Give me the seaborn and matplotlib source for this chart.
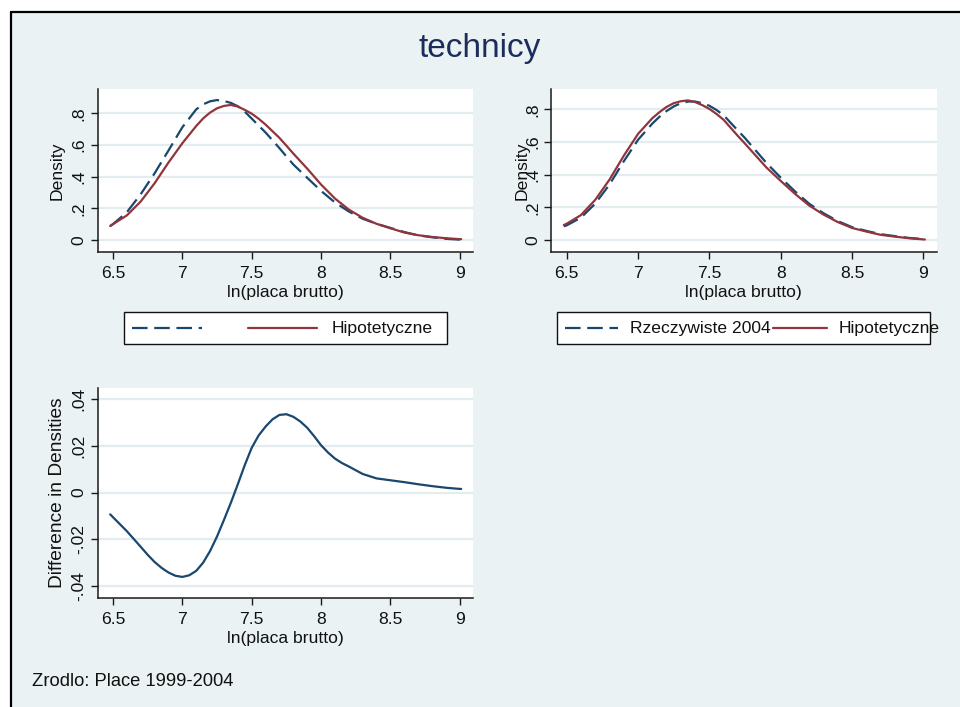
import matplotlib
matplotlib.use("Agg")
import matplotlib.pyplot as plt
from matplotlib.patches import Rectangle
from matplotlib.lines import Line2D
import seaborn as sns

# ---------------------------------------------------------------- data
ln_wage = [6.48, 6.5, 6.6, 6.7, 6.8, 6.9, 7.0, 7.1, 7.15, 7.2, 7.25, 7.3,
           7.35, 7.4, 7.45, 7.5, 7.55, 7.6, 7.7, 7.75, 7.8, 7.9, 8.0, 8.1,
           8.2, 8.3, 8.4, 8.5, 8.6, 8.7, 8.8, 8.9, 9.0, 9.01]

# left panel
actual_left = [0.088, 0.100, 0.175, 0.289, 0.421, 0.565, 0.712, 0.825, 0.857,
               0.876, 0.884, 0.878, 0.866, 0.845, 0.811, 0.767, 0.723, 0.679,
               0.580, 0.528, 0.477, 0.393, 0.310, 0.237, 0.180, 0.134, 0.102,
               0.076, 0.050, 0.029, 0.017, 0.007, 0.002, 0.002]
hypo_left = [0.088, 0.100, 0.155, 0.243, 0.358, 0.489, 0.611, 0.720, 0.768,
             0.805, 0.832, 0.847, 0.853, 0.843, 0.822, 0.798, 0.766, 0.729,
             0.645, 0.596, 0.546, 0.451, 0.350, 0.262, 0.192, 0.140, 0.102,
             0.074, 0.047, 0.030, 0.019, 0.011, 0.005, 0.005]

# right panel
actual_right = [0.084, 0.090, 0.137, 0.223, 0.340, 0.482, 0.614, 0.713, 0.755,
                0.790, 0.818, 0.838, 0.848, 0.848, 0.838, 0.822, 0.796, 0.764,
                0.670, 0.624, 0.573, 0.472, 0.382, 0.298, 0.222, 0.164, 0.116,
                0.079, 0.056, 0.036, 0.024, 0.013, 0.006, 0.005]
hypo_right = [0.092, 0.100, 0.153, 0.246, 0.370, 0.516, 0.650, 0.746, 0.783,
              0.815, 0.838, 0.850, 0.855, 0.845, 0.826, 0.803, 0.772, 0.736,
              0.637, 0.590, 0.541, 0.444, 0.362, 0.283, 0.211, 0.156, 0.110,
              0.074, 0.052, 0.032, 0.021, 0.011, 0.004, 0.003]

# difference in densities
diff_wage = [6.48, 6.5, 6.6, 6.7, 6.75, 6.8, 6.85, 6.9, 6.95, 7.0, 7.05, 7.1,
             7.15, 7.2, 7.25, 7.3, 7.35, 7.4, 7.45, 7.5, 7.55, 7.6, 7.65, 7.7,
             7.75, 7.8, 7.85, 7.9, 7.95, 8.0, 8.05, 8.1, 8.15, 8.2, 8.3, 8.4,
             8.5, 8.6, 8.7, 8.8, 8.9, 9.0, 9.01]
density_diff = [-0.0093, -0.0105, -0.0165, -0.0232, -0.0266, -0.0297, -0.0322,
                -0.0342, -0.0356, -0.0361, -0.0354, -0.0335, -0.0300, -0.0250,
                -0.0188, -0.0117, -0.0043, 0.0036, 0.0118, 0.0192, 0.0245,
                0.0283, 0.0314, 0.0333, 0.0336, 0.0325, 0.0305, 0.0278, 0.0242,
                0.0203, 0.0172, 0.0146, 0.0127, 0.0112, 0.0080, 0.0061, 0.0053,
                0.0045, 0.0036, 0.0028, 0.0021, 0.0016, 0.0016]

x_ticks = [6.5, 7, 7.5, 8, 8.5, 9]
x_tick_labels = ["6.5", "7", "7.5", "8", "8.5", "9"]
dens_ticks = [0, 0.2, 0.4, 0.6, 0.8]
dens_tick_labels = ["0", ".2", ".4", ".6", ".8"]
diff_ticks = [-0.04, -0.02, 0, 0.02, 0.04]
diff_tick_labels = ["-.04", "-.02", "0", ".02", ".04"]

title = "technicy"
xlabel = "ln(placa brutto)"
label_actual = "Rzeczywiste 2004"
label_hypo = "Hipotetyczne"
note = "Zrodlo: Place 1999-2004"

# ---------------------------------------------------------------- style
sns.set_theme(style="white")
plt.rcParams["font.family"] = ["Liberation Sans", "DejaVu Sans"]

BG = "#EAF2F3"
GRID = "#E3ECEE"
NAVY = "#1A476F"
MAROON = "#90353B"
DASH = (0, (7, 3))
FS = 12.6

W, H = 960, 707
fig = plt.figure(figsize=(W / 100, H / 100), dpi=100, facecolor="white")


def fx(px):
    return px / W


def fy(py):
    return 1 - py / H


# graph region with its frame on top and left
fig.add_artist(Rectangle((fx(11), 0), 1 - fx(11), fy(12),
                         transform=fig.transFigure, facecolor=BG,
                         edgecolor="none", zorder=0))
fig.add_artist(Line2D([fx(11), 1], [fy(12), fy(12)], color="black", lw=1.6))
fig.add_artist(Line2D([fx(11), fx(11)], [fy(12), 0], color="black", lw=1.6))


def make_axes(left, top, right, bottom):
    ax = fig.add_axes([fx(left), fy(bottom), (right - left) / W,
                       (bottom - top) / H])
    ax.set_facecolor("white")
    for side in ("top", "right"):
        ax.spines[side].set_visible(False)
    for side in ("left", "bottom"):
        ax.spines[side].set_color("#1a1a1a")
        ax.spines[side].set_linewidth(1.1)
    ax.tick_params(axis="both", which="major", direction="out", length=5,
                   width=1.0, color="#1a1a1a", labelsize=FS,
                   labelcolor="#111111", pad=3)
    ax.tick_params(axis="x", bottom=True, pad=5)
    ax.tick_params(axis="y", left=True)
    ax.set_axisbelow(True)
    ax.grid(axis="y", color=GRID, lw=1.6)
    ax.grid(axis="x", visible=False)
    return ax


def style_axes(ax, yticks, ylabels, ylim, ylabel, ylab_x, xlab_y, ylab_fs=FS):
    ax.set_xlim(6.39, 9.093)
    ax.set_xticks(x_ticks)
    ax.set_xticklabels(x_tick_labels)
    ax.set_ylim(*ylim)
    ax.set_yticks(yticks)
    ax.set_yticklabels(ylabels, rotation=90, va="center")
    ax.set_xlabel(xlabel, fontsize=FS, color="#111111")
    ax.set_ylabel(ylabel, fontsize=ylab_fs, color="#111111")
    ax.xaxis.label.set_va("center")
    ax.yaxis.label.set_va("center")
    ax.xaxis.set_label_coords(0.5, xlab_y)
    ax.yaxis.set_label_coords(ylab_x, 0.5)


def draw_pair(ax, actual, hypo):
    sns.lineplot(x=ln_wage, y=actual, ax=ax, color=NAVY, lw=1.6,
                 linestyle=DASH, sort=False, estimator=None)
    sns.lineplot(x=ln_wage, y=hypo, ax=ax, color=MAROON, lw=1.6,
                 sort=False, estimator=None)


# top-left panel
ax1 = make_axes(97.7, 89.3, 472.7, 252.3)
draw_pair(ax1, actual_left, hypo_left)
style_axes(ax1, dens_ticks, dens_tick_labels, (-0.078, 0.952), "Density",
           -0.1085, -0.245)

# top-right panel
ax2 = make_axes(551, 89.3, 936.7, 252.3)
draw_pair(ax2, actual_right, hypo_right)
style_axes(ax2, dens_ticks, dens_tick_labels, (-0.075, 0.923), "Density",
           -0.076, -0.245)

# bottom panel
ax3 = make_axes(97.7, 388.3, 472.7, 597.7)
sns.lineplot(x=diff_wage, y=density_diff, ax=ax3, color=NAVY, lw=1.6,
             sort=False, estimator=None)
style_axes(ax3, diff_ticks, diff_tick_labels, (-0.045, 0.0447),
           "Difference in Densities", -0.1085, -0.193, ylab_fs=FS + 1.2)


# legends
def legend_box(x0, x1, y0, y1, entries):
    fig.add_artist(Rectangle((fx(x0), fy(y1)), (x1 - x0) / W, (y1 - y0) / H,
                             transform=fig.transFigure, facecolor="white",
                             edgecolor="#111111", lw=1.0, zorder=2))
    yc = (y0 + y1) / 2
    for color, ls, lx0, lx1, text, tx in entries:
        fig.add_artist(Line2D([fx(lx0), fx(lx1)], [fy(yc), fy(yc)],
                              color=color, lw=1.6, linestyle=ls, zorder=3))
        if text:
            fig.text(fx(tx), fy(yc), text, ha="left", va="center",
                     fontsize=FS, color="#111111", zorder=4)


legend_box(124.3, 446.7, 311.7, 344.3,
           [(NAVY, DASH, 131.7, 201.7, "", 0),
            (MAROON, "-", 248, 316.7, label_hypo, 331.7)])
legend_box(557.3, 930, 311.7, 344.3,
           [(NAVY, DASH, 565, 618, label_actual, 630),
            (MAROON, "-", 772.7, 826.7, label_hypo, 838.3)])

# title and note
fig.text(0.5, fy(48), title, ha="center", va="center", fontsize=24,
         color="#1C2C5B")
fig.text(fx(31.7), fy(681.7), note, ha="left", va="center", fontsize=13.2,
         color="#111111")

fig.savefig("out.png", dpi=100, facecolor="white")
